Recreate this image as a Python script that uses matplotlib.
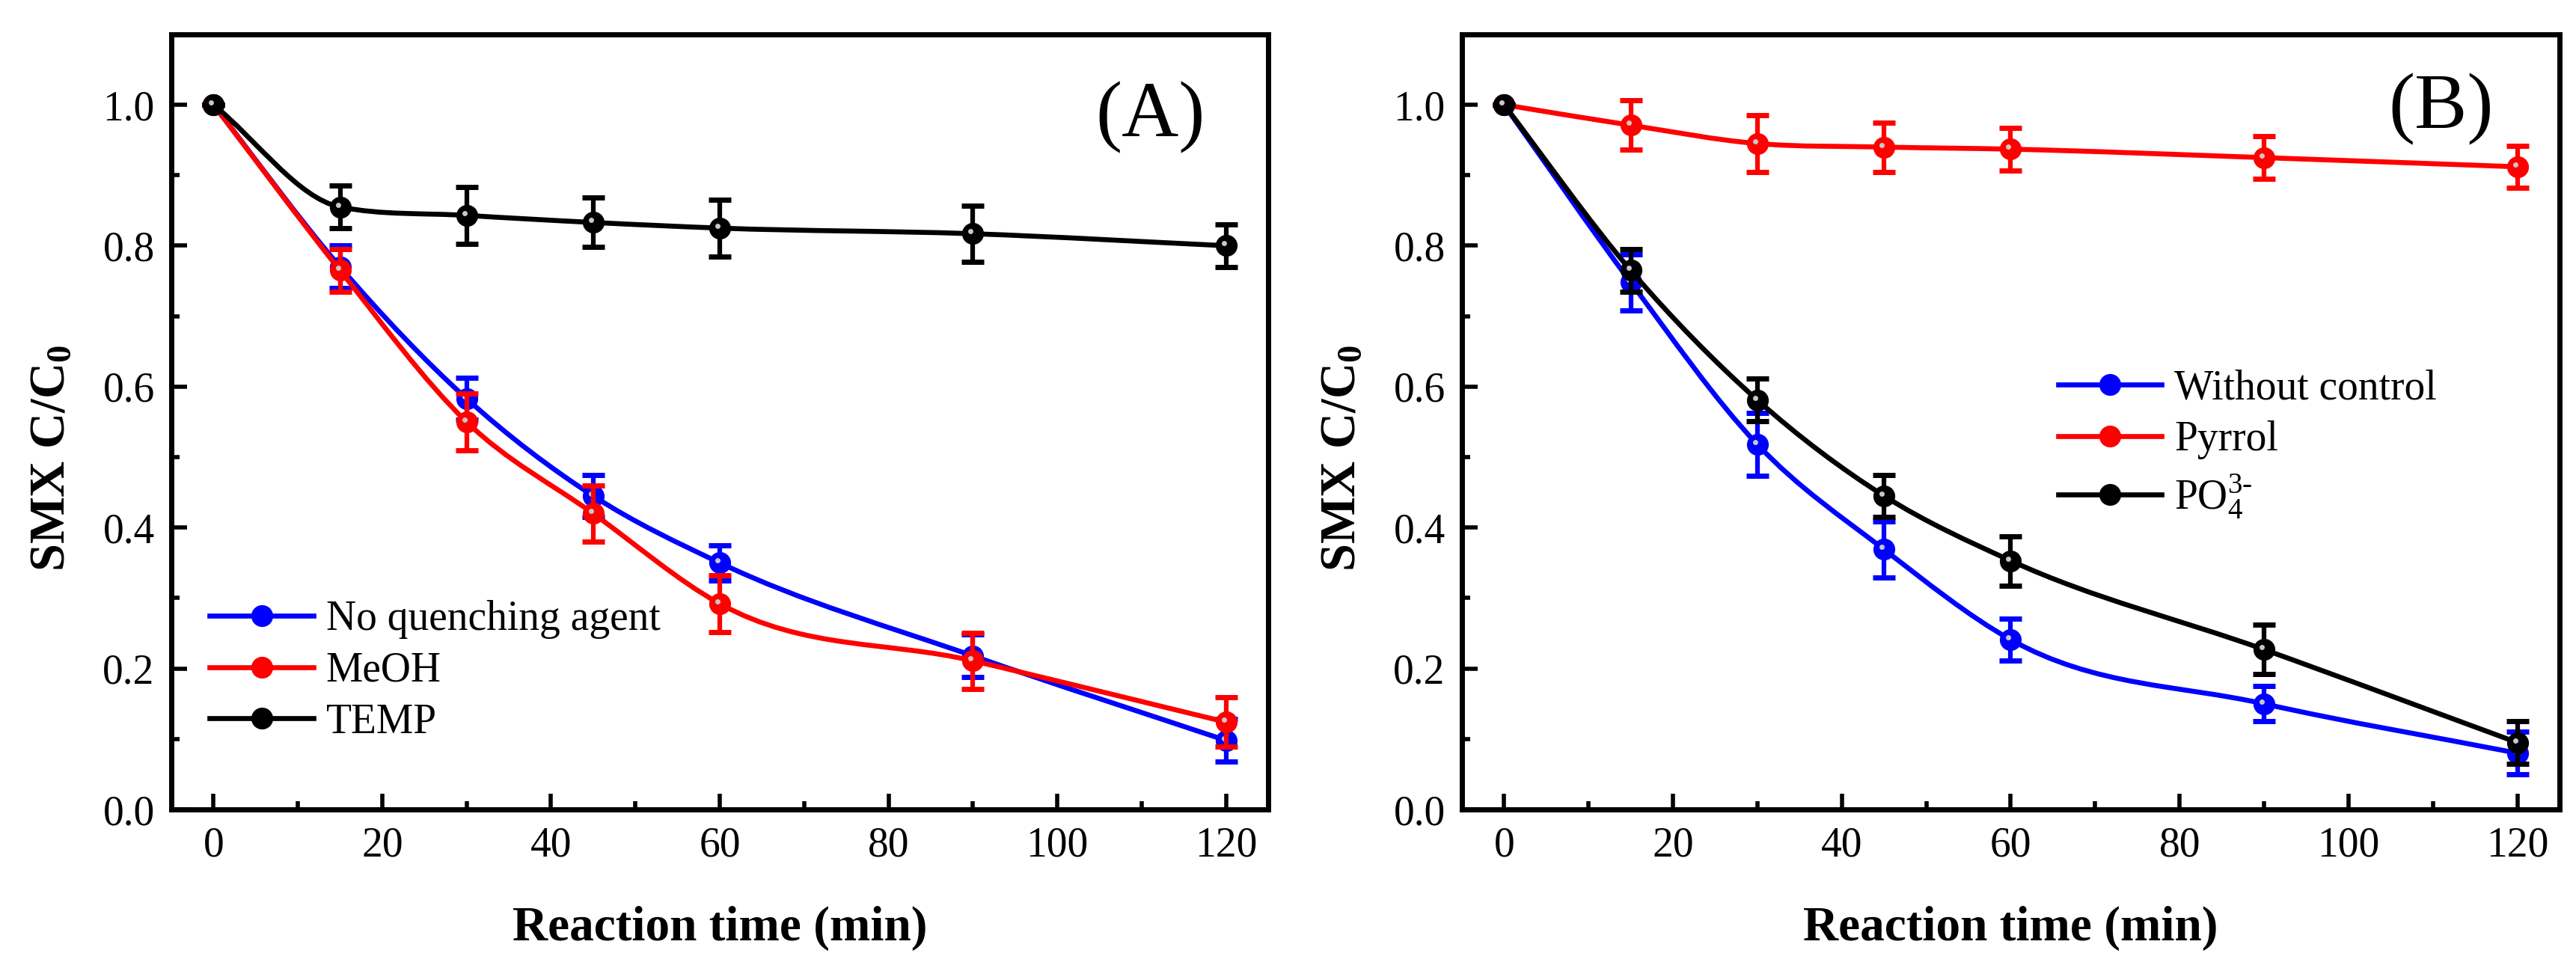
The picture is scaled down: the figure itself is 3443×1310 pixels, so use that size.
import numpy as np
import matplotlib
matplotlib.use("Agg")
import matplotlib.pyplot as plt
from matplotlib.path import Path
from matplotlib.patches import PathPatch
from matplotlib.lines import Line2D
from matplotlib.transforms import offset_copy
from matplotlib.ticker import MultipleLocator, FormatStrFormatter

plt.rcParams['font.family'] = ['Liberation Serif', 'DejaVu Serif']
plt.rcParams['mathtext.fontset'] = 'custom'
plt.rcParams['mathtext.rm'] = 'Liberation Serif'
plt.rcParams['mathtext.it'] = 'Liberation Serif:italic'
plt.rcParams['mathtext.bf'] = 'Liberation Serif:bold'

# time points (min)
time = [0, 15, 30, 45, 60, 90, 120]

# panel A: quenching agents
a_labels = ['No quenching agent', 'MeOH', 'TEMP']
a_none = [1.0, 0.77, 0.583, 0.445, 0.35, 0.218, 0.098]
a_none_err = [0.0, 0.03, 0.03, 0.03, 0.025, 0.03, 0.03]
a_meoh = [1.0, 0.765, 0.55, 0.42, 0.292, 0.211, 0.124]
a_meoh_err = [0.0, 0.03, 0.04, 0.04, 0.04, 0.04, 0.035]
a_temp = [1.0, 0.855, 0.843, 0.833, 0.825, 0.817, 0.80]
a_temp_err = [0.0, 0.03, 0.04, 0.035, 0.04, 0.04, 0.03]

# panel B: control
b_labels = ['Without control', 'Pyrrol', r'PO$_4^{3\text{-}}$']
b_none = [1.0, 0.748, 0.518, 0.369, 0.241, 0.15, 0.08]
b_none_err = [0.0, 0.04, 0.045, 0.04, 0.03, 0.025, 0.03]
b_pyrrol = [1.0, 0.971, 0.945, 0.94, 0.937, 0.925, 0.912]
b_pyrrol_err = [0.0, 0.035, 0.04, 0.035, 0.03, 0.03, 0.03]
b_po4 = [1.0, 0.765, 0.581, 0.445, 0.353, 0.227, 0.095]
b_po4_err = [0.0, 0.03, 0.03, 0.03, 0.035, 0.035, 0.03]

colors = ['#0000ff', '#ff0000', '#000000']


def smooth_path(x, y):
    # bezier segments through the data points, slopes clipped to avoid overshoot
    x = np.asarray(x, float)
    y = np.asarray(y, float)
    h = np.diff(x)
    d = np.diff(y) / h
    n = len(x)
    m = np.zeros(n)
    m[0], m[-1] = d[0], d[-1]
    for i in range(1, n - 1):
        if d[i - 1] * d[i] <= 0:
            m[i] = 0.0
            continue
        c = (h[i] * d[i - 1] + h[i - 1] * d[i]) / (h[i - 1] + h[i])
        lim = 3 * min(abs(d[i - 1]), abs(d[i]))
        m[i] = np.sign(c) * min(abs(c), lim)
    verts = [(x[0], y[0])]
    codes = [Path.MOVETO]
    for i in range(n - 1):
        t = h[i] / 3
        verts += [(x[i] + t, y[i] + m[i] * t),
                  (x[i + 1] - t, y[i + 1] - m[i + 1] * t),
                  (x[i + 1], y[i + 1])]
        codes += [Path.CURVE4] * 3
    return Path(verts, codes)


def draw_panel(ax, series, errs, labels, tag, tag_y, leg_anchor):
    for k, (y, e, c) in enumerate(zip(series, errs, colors)):
        z = 3 + k
        ax.add_patch(PathPatch(smooth_path(time, y), fill=False, edgecolor=c,
                               lw=4.8, zorder=z, capstyle='round'))
        ax.errorbar(time, y, yerr=e, fmt='o', ms=20, color=c, ecolor=c,
                    elinewidth=4.5, capsize=11, capthick=5, zorder=z)
        # little highlight on the spheres
        ax.plot(time, y, 'o', ms=5, color='#c8c8c8', mec='none', zorder=z + 0.5,
                transform=offset_copy(ax.transData, fig=ax.figure, x=-3, y=3, units='dots'))

    ax.set_xlim(-5, 125)
    ax.set_ylim(0, 1.1)
    ax.xaxis.set_major_locator(MultipleLocator(20))
    ax.xaxis.set_minor_locator(MultipleLocator(10))
    ax.yaxis.set_major_locator(MultipleLocator(0.2))
    ax.yaxis.set_minor_locator(MultipleLocator(0.1))
    ax.yaxis.set_major_formatter(FormatStrFormatter('%.1f'))
    ax.tick_params(which='major', direction='in', length=15, width=4,
                   labelsize=40, pad=16)
    ax.tick_params(which='minor', direction='in', length=8, width=4)
    for s in ax.spines.values():
        s.set_linewidth(5)

    ax.set_xlabel('Reaction time (min)', fontsize=47, fontweight='bold')
    ax.xaxis.label.set_va('baseline')
    ax.xaxis.set_label_coords(0.5, -0.169)
    ax.set_ylabel(r'SMX C/C$_\mathbf{0}$', fontsize=48, fontweight='bold')
    ax.yaxis.set_label_coords(-0.088, 0.453)

    ax.text(111, tag_y, tag, fontsize=76, ha='center', va='center')

    handles = [Line2D([], [], color=c, lw=4.8, marker='o', ms=20) for c in colors]
    ax.legend(handles, labels, loc='upper left', bbox_to_anchor=leg_anchor,
              frameon=False, fontsize=40, handlelength=2.5, handletextpad=0.3,
              labelspacing=0.3, borderpad=0, borderaxespad=0)


fig = plt.figure(figsize=(34.43, 13.10), dpi=100)
ax_a = fig.add_axes([0.0665, 0.174, 0.4258, 0.791])
ax_b = fig.add_axes([0.5675, 0.174, 0.4261, 0.791])

draw_panel(ax_a, [a_none, a_meoh, a_temp], [a_none_err, a_meoh_err, a_temp_err],
           a_labels, '(A)', 0.982, (0.035, 0.27))
draw_panel(ax_b, [b_none, b_pyrrol, b_po4], [b_none_err, b_pyrrol_err, b_po4_err],
           b_labels, '(B)', 0.994, (0.543, 0.568))

fig.savefig('out.png', dpi=100)
